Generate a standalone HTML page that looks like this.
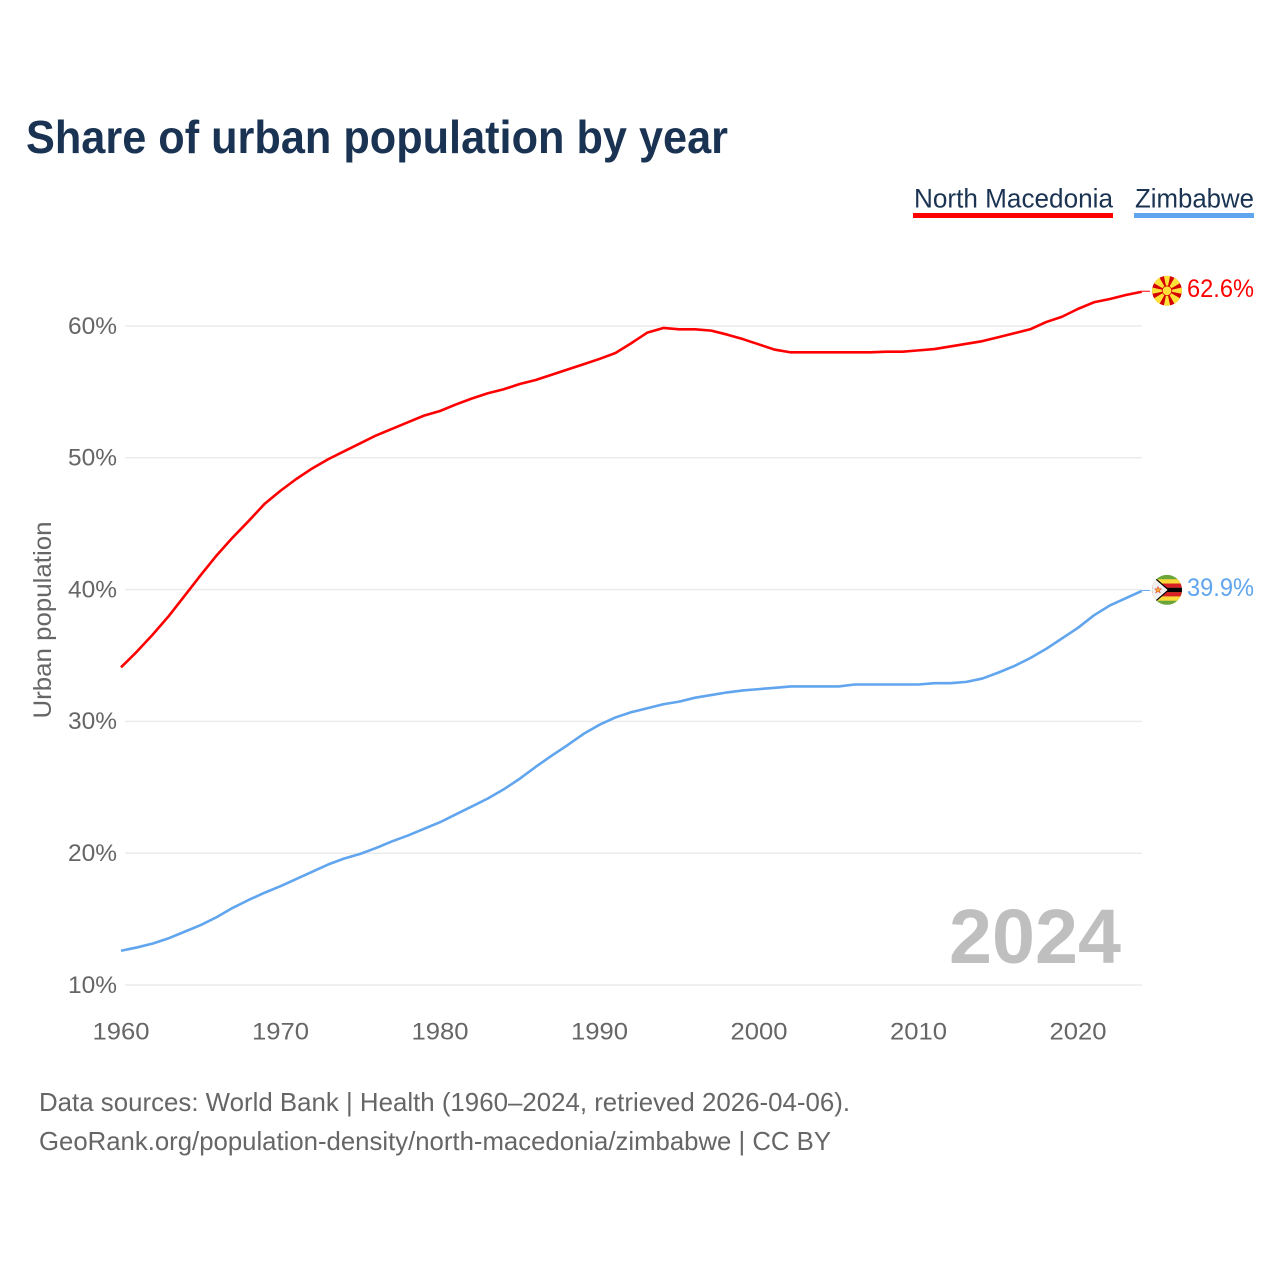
<!DOCTYPE html>
<html lang="en">
<head>
<meta charset="utf-8">
<title>Share of urban population by year</title>
<style>
html,body{margin:0;padding:0;background:#fff;}
svg{display:block;font-family:"Liberation Sans",sans-serif;}
</style>
</head>
<body>
<svg id="chart" xmlns="http://www.w3.org/2000/svg" width="1280" height="1280" viewBox="0 0 1280 1280">
  <rect width="1280" height="1280" fill="#ffffff"/>
  <defs>
    <clipPath id="flag-clip"><circle cx="0" cy="0" r="15"/></clipPath>
  </defs>
  <text x="26" y="153" font-size="46" font-weight="700" fill="#1a3353" textLength="702" lengthAdjust="spacingAndGlyphs">Share of urban population by year</text>

  <text x="914" y="207.5" font-size="27" fill="#1a3353" textLength="199" lengthAdjust="spacingAndGlyphs">North Macedonia</text>
  <rect x="913" y="213" width="200" height="5" fill="#ff0000"/>
  <text x="1135" y="207.5" font-size="27" fill="#1a3353" textLength="119" lengthAdjust="spacingAndGlyphs">Zimbabwe</text>
  <rect x="1134" y="213" width="120" height="5" fill="#60a5ee"/>

  <g id="grid"></g>
  <g id="yticks"></g>
  <g id="xticks"></g>
  <text transform="translate(51,620) rotate(-90)" text-anchor="middle" font-size="25" fill="#666666" textLength="197" lengthAdjust="spacingAndGlyphs">Urban population</text>

  <text x="949" y="963" font-size="77" font-weight="700" fill="#bfbfbf" textLength="172" lengthAdjust="spacingAndGlyphs">2024</text>

  <g id="series"></g>

  <g id="flag-mk" clip-path="url(#flag-clip)">
    <circle cx="0" cy="0" r="15" fill="#d20000"/>
    <g fill="#ffe13a">
      <polygon points="-3.4,-16 3.4,-16 0,0"/>
      <polygon points="-3.4,16 3.4,16 0,0"/>
      <polygon points="-16,-3.4 -16,3.4 0,0"/>
      <polygon points="16,-3.4 16,3.4 0,0"/>
      <polygon points="-15,-8.6 -8.6,-15 0,0"/>
      <polygon points="15,-8.6 8.6,-15 0,0"/>
      <polygon points="-15,8.6 -8.6,15 0,0"/>
      <polygon points="15,8.6 8.6,15 0,0"/>
    </g>
    <circle cx="0" cy="0" r="5.2" fill="#d20000"/>
    <circle cx="0" cy="0" r="4.4" fill="#ffe13a"/>
  </g>

  <g id="flag-zw" clip-path="url(#flag-clip)">
    <rect x="-15" y="-15" width="30" height="30" fill="#6aa53a"/>
    <rect x="-15" y="-10.7" width="30" height="4.3" fill="#fbd83a"/>
    <rect x="-15" y="-6.4" width="30" height="4.3" fill="#d81f26"/>
    <rect x="-15" y="-2.1" width="30" height="4.3" fill="#000000"/>
    <rect x="-15" y="2.2" width="30" height="4.3" fill="#d81f26"/>
    <rect x="-15" y="6.5" width="30" height="4.3" fill="#fbd83a"/>
    <polygon points="-18,-17 1.5,0 -18,17" fill="#f0f0f0" stroke="#000000" stroke-width="1.2"/>
    <polygon points="-9,-3.5 -8,-1 -5.5,-1 -7.5,0.6 -6.7,3 -9,1.6 -11.3,3 -10.5,0.6 -12.5,-1 -10,-1" fill="#f5b52e" stroke="#d81f26" stroke-width="0.5"/>
  </g>

  <g id="end-labels"></g>

  <text x="39" y="1111" font-size="26" fill="#666666" textLength="811" lengthAdjust="spacingAndGlyphs">Data sources: World Bank | Health (1960–2024, retrieved 2026-04-06).</text>
  <text x="39" y="1150" font-size="26" fill="#666666" textLength="792" lengthAdjust="spacingAndGlyphs">GeoRank.org/population-density/north-macedonia/zimbabwe | CC BY</text>
</svg>

<script>
var startYear = 1960;
var xTickYears = [1960, 1970, 1980, 1990, 2000, 2010, 2020];
var yTickValues = [10, 20, 30, 40, 50, 60];
var northMacedonia = [34.1,35.3,36.6,38.0,39.55,41.1,42.6,43.95,45.2,46.5,47.5,48.4,49.2,49.9,50.5,51.1,51.7,52.2,52.7,53.2,53.55,54.05,54.5,54.9,55.2,55.6,55.9,56.3,56.7,57.1,57.5,57.95,58.7,59.5,59.85,59.75,59.75,59.65,59.35,59.0,58.6,58.2,58.0,58.0,58.0,58.0,58.0,58.0,58.05,58.05,58.15,58.25,58.45,58.65,58.85,59.15,59.45,59.75,60.3,60.7,61.3,61.8,62.05,62.35,62.6];
var zimbabwe = [12.6,12.85,13.15,13.55,14.05,14.55,15.15,15.85,16.45,17.0,17.5,18.05,18.6,19.15,19.6,19.95,20.4,20.9,21.35,21.85,22.35,22.95,23.55,24.15,24.85,25.65,26.55,27.4,28.2,29.05,29.75,30.3,30.7,31.0,31.3,31.5,31.8,32.0,32.2,32.35,32.45,32.55,32.65,32.65,32.65,32.65,32.8,32.8,32.8,32.8,32.8,32.9,32.9,33.0,33.25,33.7,34.2,34.8,35.5,36.3,37.1,38.05,38.8,39.35,39.9];

var NS = 'http://www.w3.org/2000/svg';
function xScale(year) { return 121 + (year - 1960) * 15.95; }
function yScale(value) { return 985 - (value - 10) * 13.18; }
function mk(tag, attrs, text) {
  var el = document.createElementNS(NS, tag);
  for (var k in attrs) el.setAttribute(k, attrs[k]);
  if (text !== undefined) el.textContent = text;
  return el;
}

var grid = document.getElementById('grid');
var yticks = document.getElementById('yticks');
yTickValues.forEach(function (v) {
  var line = mk('line', {x1: 125, x2: 1142, y1: yScale(v), y2: yScale(v), stroke: '#ebebeb', 'stroke-width': 1.5});
  
  
  grid.appendChild(line);
  var label = mk('text', {x: 117, y: yScale(v) + 7.8, 'text-anchor': 'end', 'font-size': 24, fill: '#666666', textLength: 49, lengthAdjust: 'spacingAndGlyphs'}, v + '%');
  
  
  yticks.appendChild(label);
});

var xticks = document.getElementById('xticks');
xTickYears.forEach(function (y) {
  var label = mk('text', {x: xScale(y), y: 1039.5, 'text-anchor': 'middle', 'font-size': 24, fill: '#666666', textLength: 57, lengthAdjust: 'spacingAndGlyphs'}, String(y));
  
  
  xticks.appendChild(label);
});

function linePoints(values) {
  return values.map(function (v, i) {
    return xScale(startYear + i).toFixed(2) + ',' + yScale(v).toFixed(2);
  }).join(' ');
}

var seriesGroup = document.getElementById('series');
var endLabels = document.getElementById('end-labels');

var lineMk = mk('polyline', {points: linePoints(northMacedonia), fill: 'none', stroke: '#ff0000', 'stroke-width': 2.6, 'stroke-linejoin': 'round'});


seriesGroup.appendChild(lineMk);

var lineZw = mk('polyline', {points: linePoints(zimbabwe), fill: 'none', stroke: '#60a5ee', 'stroke-width': 2.6, 'stroke-linejoin': 'round'});


seriesGroup.appendChild(lineZw);

var lastMk = northMacedonia[northMacedonia.length - 1];
var lastZw = zimbabwe[zimbabwe.length - 1];

var leaderMk = mk('line', {x1: 1142, x2: 1150, y1: yScale(lastMk) - 0.5, y2: yScale(lastMk) - 0.5, stroke: '#ff0000', 'stroke-width': 1});


seriesGroup.appendChild(leaderMk);

var leaderZw = mk('line', {x1: 1142, x2: 1150, y1: yScale(lastZw) - 0.5, y2: yScale(lastZw) - 0.5, stroke: '#60a5ee', 'stroke-width': 1});


seriesGroup.appendChild(leaderZw);

document.getElementById('flag-mk').setAttribute('transform', 'translate(1167,' + (yScale(lastMk) - 1) + ')');
document.getElementById('flag-zw').setAttribute('transform', 'translate(1167,' + (yScale(lastZw) - 1) + ')');

var labelMk = mk('text', {x: 1187, y: yScale(lastMk) + 5.2, 'font-size': 25, fill: '#ff0000', textLength: 67, lengthAdjust: 'spacingAndGlyphs'}, lastMk.toFixed(1) + '%');


endLabels.appendChild(labelMk);

var labelZw = mk('text', {x: 1187, y: yScale(lastZw) + 5.2, 'font-size': 25, fill: '#60a5ee', textLength: 67, lengthAdjust: 'spacingAndGlyphs'}, lastZw.toFixed(1) + '%');


endLabels.appendChild(labelZw);
</script>
</body>
</html>
